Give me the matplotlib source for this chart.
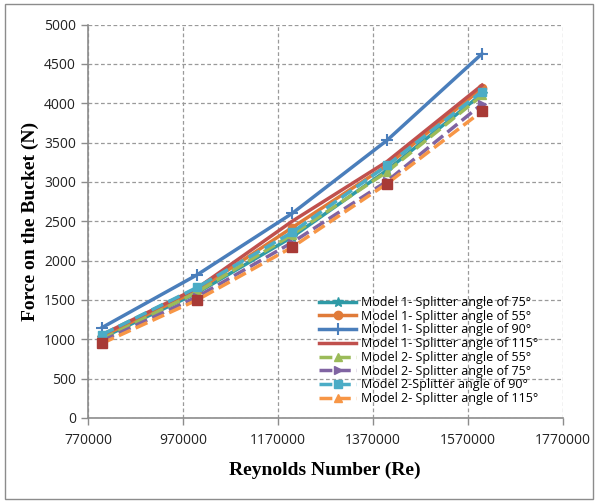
import matplotlib
matplotlib.use("Agg")
import matplotlib.pyplot as plt
from matplotlib.patches import Rectangle

reynolds = [800000, 1000000, 1200000, 1400000, 1600000]

m1_75 = [1020, 1590, 2300, 3150, 4120]
m1_55 = [1040, 1620, 2420, 3210, 4190]
m1_90 = [1150, 1820, 2600, 3530, 4630]
m1_115 = [1060, 1650, 2500, 3260, 4230]
m2_55 = [1000, 1600, 2330, 3130, 4100]
m2_75 = [980, 1540, 2230, 3010, 3990]
m2_90 = [1060, 1660, 2360, 3210, 4150]
m2_115 = [950, 1500, 2170, 2980, 3900]

labels = [
    "Model 1- Splitter angle of 75\u00b0",
    "Model 1- Splitter angle of 55\u00b0",
    "Model 1- Splitter angle of 90\u00b0",
    "Model 1- Splitter angle of 115\u00b0",
    "Model 2- Splitter angle of 55\u00b0",
    "Model 2- Splitter angle of 75\u00b0",
    "Model 2-Splitter angle of 90\u00b0",
    "Model 2- Splitter angle of 115\u00b0",
]

x_ticks = [770000, 970000, 1170000, 1370000, 1570000, 1770000]
y_ticks = list(range(0, 5001, 500))


def main():
    fig = plt.figure(figsize=(5.98, 5.03), dpi=100)
    fig.patches.append(Rectangle((0.008, 0.008), 0.984, 0.984, transform=fig.transFigure,
                                 fill=False, edgecolor="#8c8c8c", linewidth=1.0))
    ax = fig.add_axes([0.147, 0.169, 0.794, 0.782])

    # model 1 - solid lines
    ax.plot(reynolds, m1_75, color="#2e9aa6", lw=2.5, marker="*", ms=7, label=labels[0])
    ax.plot(reynolds, m1_55, color="#e07b39", lw=2.5, marker="o", ms=6, label=labels[1])
    ax.plot(reynolds, m1_90, color="#4a7ebb", lw=2.5, marker="+", ms=9, mew=1.5, label=labels[2])
    ax.plot(reynolds, m1_115, color="#c0504d", lw=2.5, label=labels[3])
    # model 2 - dashed lines
    ax.plot(reynolds, m2_55, color="#9bbb59", lw=2.5, ls="--", marker="^", ms=6, label=labels[4])
    ax.plot(reynolds, m2_75, color="#8064a2", lw=2.5, ls="--", marker=">", ms=6, label=labels[5])
    ax.plot(reynolds, m2_90, color="#4bacc6", lw=2.5, ls="--", marker="s", ms=6, label=labels[6])
    ax.plot(reynolds, m2_115, color="#f79646", lw=2.5, ls="--", marker="^", ms=6, label=labels[7])
    # dark red squares under the cluster
    ax.plot(reynolds, m2_115, color="#a83a36", lw=0, marker="s", ms=7)

    ax.set_xlim(770000, 1770000)
    ax.set_ylim(0, 5000)
    ax.set_xticks(x_ticks)
    ax.set_yticks(y_ticks)
    ax.set_xticklabels([str(v) for v in x_ticks])
    ax.grid(True, ls=(0, (3, 2)), color="#9a9a9a", lw=0.9)
    ax.set_axisbelow(True)
    for s in ["top", "right"]:
        ax.spines[s].set_visible(False)
    for s in ["left", "bottom"]:
        ax.spines[s].set_color("#8c8c8c")
        ax.spines[s].set_linewidth(1.2)
    ax.tick_params(colors="#8c8c8c", labelcolor="#222222", labelsize=10, length=5, width=1)
    for t in ax.get_xticklabels() + ax.get_yticklabels():
        t.set_family("Open Sans")
    ax.tick_params(axis="x", pad=6)

    ax.set_xlabel("Reynolds Number (Re)", family="Liberation Serif", weight="bold",
                  fontsize=14, labelpad=10)
    ax.set_ylabel("Force on the Bucket (N)", family="Liberation Serif", weight="bold",
                  fontsize=14, labelpad=4)

    ax.legend(loc="lower right", bbox_to_anchor=(0.96, 0.02), frameon=False,
              prop={"family": "Open Sans", "size": 9}, handlelength=3.0,
              labelspacing=0.06, handletextpad=0.4, borderaxespad=0.0)

    fig.savefig("out.png", dpi=100)


if __name__ == "__main__":
    main()
